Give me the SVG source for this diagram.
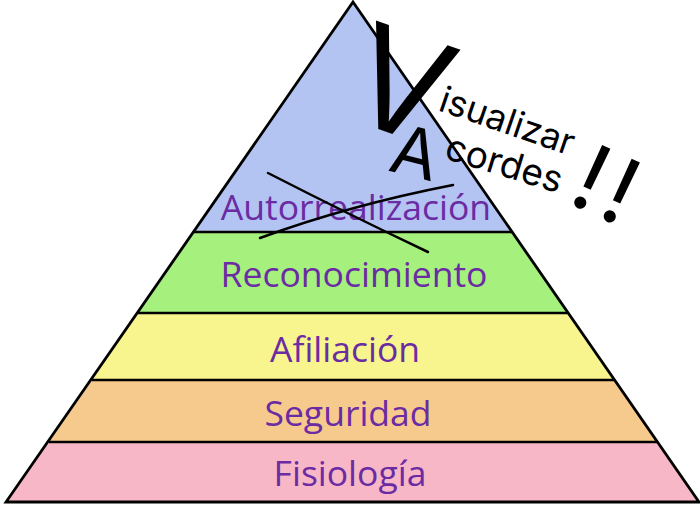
<svg xmlns="http://www.w3.org/2000/svg" width="700" height="505" viewBox="0 0 700 505">
<style>
.layer{stroke:none}
.edge{fill:none;stroke:#000;stroke-width:2.8;stroke-linejoin:miter}
.sep{stroke:#000;stroke-width:2.4}
.lbl{font-family:"Open Sans","Noto Sans",sans-serif;font-size:35.5px;fill:#6b2ba3;text-anchor:middle}
.hand{font-family:"Inter","Roboto",sans-serif;font-weight:400;fill:#000}
.scratch{fill:none;stroke:#000;stroke-width:2.5;stroke-linecap:round}
</style>
<rect width="700" height="505" fill="#fff"/>
<g id="autorrealizacion">
<polygon class="layer" points="353,2 512,232 194,232" fill="#b3c4f2"/>
<text class="lbl" x="356" y="220">Autorrealización</text>
</g>
<g id="reconocimiento">
<polygon class="layer" points="194,232 512,232 568,313 138,313" fill="#a6f07e"/>
<text class="lbl" x="354" y="287">Reconocimiento</text>
</g>
<g id="afiliacion">
<polygon class="layer" points="138,313 568,313 614,380 92,380" fill="#f8f48e"/>
<text class="lbl" x="345" y="362">Afiliación</text>
</g>
<g id="seguridad">
<polygon class="layer" points="92,380 614,380 657,442 49,442" fill="#f6ca8c"/>
<text class="lbl" x="348" y="426">Seguridad</text>
</g>
<g id="fisiologia">
<polygon class="layer" points="49,442 657,442 699,502 6,502" fill="#f8b7c6"/>
<text class="lbl" x="350" y="486">Fisiología</text>
</g>
<g id="outline">
<polygon class="edge" points="353,2 699,502 6,502"/>
<line class="sep" x1="194" y1="232" x2="512" y2="232"/>
<line class="sep" x1="138" y1="313" x2="568" y2="313"/>
<line class="sep" x1="92" y1="380" x2="614" y2="380"/>
<line class="sep" x1="49" y1="442" x2="657" y2="442"/>
</g>
<g id="scribble">
<path class="scratch" d="M268,173 Q350,215 428,252"/>
<path class="scratch" d="M260,238 Q350,205 453,185"/>
<text class="hand" font-size="140" font-weight="300" transform="translate(384,131) rotate(19)" x="-47" y="0">V</text>
<text class="hand" font-size="36" transform="translate(437,110) rotate(19)">isualizar</text>
<text class="hand" font-size="68" font-weight="300" transform="translate(410,176) rotate(14)" x="-24">A</text>
<text class="hand" font-size="37" transform="translate(443,158) rotate(17)">cordes</text>
<text class="hand" font-size="92" font-weight="400" transform="translate(566,202) rotate(25)" letter-spacing="6">!!</text>
</g>
</svg>
